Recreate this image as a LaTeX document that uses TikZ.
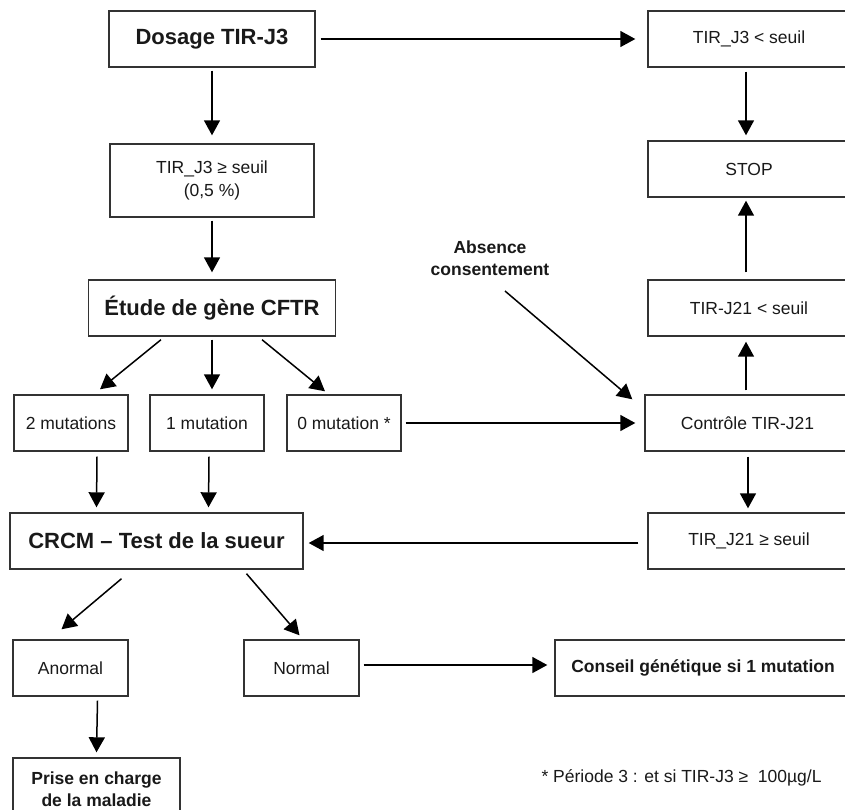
\documentclass[tikz,border=0pt]{standalone}
\usepackage{fontspec}
\setmainfont{Liberation Sans}
\usetikzlibrary{arrows.meta}
\begin{document}
\begin{tikzpicture}[x=1pt,y=-1pt,
  box/.style={draw=black!80,line width=1.4pt,rectangle,inner sep=0pt,align=center,
    text=black!90,font=\fontsize{17.5}{23}\selectfont,minimum height=56pt},
  bigbox/.style={box,font=\fontsize{22}{26}\selectfont\bfseries},
  boldbox/.style={box,font=\fontsize{17.5}{22}\selectfont\bfseries},
  arr/.style={line width=1.5pt,-{Triangle[length=15pt,width=16pt]}},
]
\useasboundingbox (0,0) rectangle (845,809);
\fill[white] (0,0) rectangle (845,809);

% left column
\node[bigbox,minimum width=206pt] (dosage) at (212,39) {Dosage TIR-J3};
\node[box,minimum width=204pt,minimum height=73pt] (ge3) at (212,180.5) {TIR\_J3 ≥ seuil\\(0,5 \%)};
\node[bigbox,minimum width=247pt] (etude) at (212,308) {Étude de gène CFTR};
\node[box,minimum width=114pt] (m2) at (71,423) {2 mutations};
\node[box,minimum width=114pt] (m1) at (207,423) {1 mutation};
\node[box,minimum width=114pt] (m0) at (344,423) {0 mutation *};
\node[bigbox,minimum width=293pt] (crcm) at (156.5,541) {CRCM -- Test de la sueur};
\node[box,minimum width=115pt] (anormal) at (70.5,668) {Anormal};
\node[box,minimum width=115pt] (normal) at (301.5,668) {Normal};
\node[boldbox,minimum width=167pt,minimum height=62pt] (prise) at (96.5,789) {Prise en charge\\de la maladie};
\node[boldbox,minimum width=296pt] (conseil) at (703,668) {Conseil génétique si 1 mutation};

% right column
\node[box,minimum width=202pt] (lt3) at (749,39) {TIR\_J3 < seuil};
\node[box,minimum width=202pt] (stop) at (749,169) {STOP};
\node[box,minimum width=202pt] (lt21) at (749,308) {TIR-J21 < seuil};
\node[box,minimum width=205pt] (ctrl) at (747.5,423) {Contrôle TIR-J21};
\node[box,minimum width=202pt] (ge21) at (749,541) {TIR\_J21 ≥ seuil};

% free labels
\node[align=center,font=\fontsize{17.5}{22}\selectfont\bfseries,text=black!90] (absence) at (490,258) {Absence\\consentement};
\coordinate (absfrom) at (505,291);
\node[anchor=west,font=\fontsize{17.5}{22}\selectfont,text=black!90] (foot) at (538,778) {* Période 3 : et si TIR-J3 ≥\ \ 100µg/L};

% connectors
\draw[arr] ([xshift=5pt]dosage.east) -- ([xshift=-12pt]lt3.west);
\draw[arr] ([yshift=-3pt]dosage.south) -- ([yshift=8pt]ge3.north);
\draw[arr] ([yshift=-3pt]ge3.south) -- ([yshift=7pt]etude.north);
\draw[arr] ([shift={(-51pt,-3pt)}]etude.south) -- ([shift={(29pt,5pt)}]m2.north);
\draw[arr] ([yshift=-3pt]etude.south) -- ([shift={(5pt,5pt)}]m1.north);
\draw[arr] ([shift={(50pt,-3pt)}]etude.south) -- ([shift={(-19pt,3pt)}]m0.north);
\draw[arr] ([shift={(26pt,-5pt)}]m2.south) -- ([shift={(-60pt,5pt)}]crcm.north);
\draw[arr] ([shift={(2pt,-5pt)}]m1.south) -- ([shift={(52pt,5pt)}]crcm.north);
\draw[arr] ([xshift=4pt]m0.east) -- ([xshift=-9pt]ctrl.west);
\draw[arr] (absfrom) -- ([shift={(-12pt,-5pt)}]ctrl.north west);
\draw[arr] ([shift={(-1.5pt,4pt)}]ctrl.north) -- ([shift={(-3pt,-5pt)}]lt21.south);
\draw[arr] ([shift={(-3pt,7pt)}]lt21.north) -- ([shift={(-3pt,-3pt)}]stop.south);
\draw[arr] ([shift={(-3pt,-4pt)}]lt3.south) -- ([shift={(-3pt,5pt)}]stop.north);
\draw[arr] ([shift={(0.5pt,-5pt)}]ctrl.south) -- ([shift={(-1pt,4pt)}]ge21.north);
\draw[arr] ([shift={(-9pt,-2pt)}]ge21.west) -- ([shift={(5pt,-2pt)}]crcm.east);
\draw[arr] ([shift={(-35pt,-9pt)}]crcm.south) -- ([shift={(-9pt,10pt)}]anormal.north);
\draw[arr] ([shift={(90pt,-4pt)}]crcm.south) -- ([shift={(-2pt,4pt)}]normal.north);
\draw[arr] ([shift={(27pt,-4pt)}]anormal.south) -- ([shift={(0pt,5pt)}]prise.north);
\draw[arr] ([shift={(4pt,3pt)}]normal.east) -- ([shift={(-7pt,3pt)}]conseil.west);
\end{tikzpicture}
\end{document}
